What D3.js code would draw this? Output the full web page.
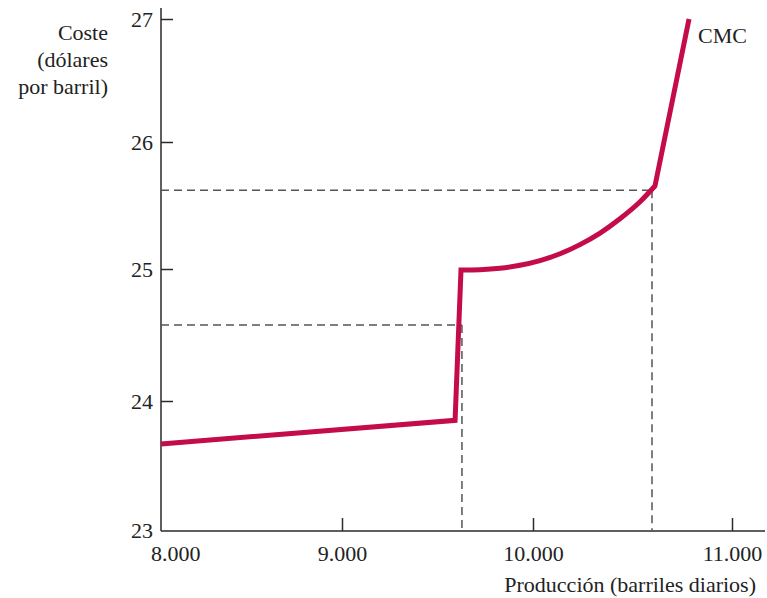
<!DOCTYPE html>
<html><head><meta charset="utf-8">
<script src="https://cdn.jsdelivr.net/npm/d3@7"></script>
<style>
html,body{margin:0;padding:0;background:#fff;}
svg text{font-family:"Liberation Serif","Times New Roman",serif;fill:#222;}
</style></head>
<body><svg id="c" width="767" height="598"></svg>
<script>
// Data
const xTicks = [8000, 9000, 10000, 11000];
const yTicks = [23, 24, 25, 26, 27];
const xTickLabels = ["8.000", "9.000", "10.000", "11.000"];
// CMC curve: linear part, vertical jump, rising curve, steep part
const cmcLinearX = [7915, 9592, 9623];
const cmcLinearY = [23.667, 23.85, 24.992];
const cmcCurveX = [9623, 9723, 9827, 9932, 10035, 10136, 10236, 10337, 10437, 10538, 10613];
const cmcCurveY = [24.992, 24.995, 25.006, 25.029, 25.066, 25.12, 25.192, 25.283, 25.396, 25.53, 25.654];
const cmcSteepX = [10613, 10784];
const cmcSteepY = [25.654, 27.0];
// Dashed reference lines
const refX = [9628, 10598];
const refY = [24.576, 25.62];

const FS = 22;
const svg = d3.select("#c");
// figure is not drawn to uniform scale, so use piecewise linear scales
const x = d3.scaleLinear().domain([7915, 9000, 10000, 11000, 11170]).range([161, 342, 533, 732, 765]);
const y = d3.scaleLinear().domain([22.992, 24, 25, 26, 27, 27.09]).range([531, 401, 269, 142, 19, 8]);

const axisColor = "#2a2a2a";
svg.append("line").attr("x1", x(7915)).attr("x2", x(11170)).attr("y1", y(22.992)).attr("y2", y(22.992))
  .attr("stroke", axisColor).attr("stroke-width", 1.5);
svg.append("line").attr("x1", x(7915)).attr("x2", x(7915)).attr("y1", y(22.992)).attr("y2", y(27.09))
  .attr("stroke", axisColor).attr("stroke-width", 1.5);

const xAxis = d3.axisBottom(x).tickValues(xTicks).tickFormat((d, i) => xTickLabels[i]).tickSize(-13).tickPadding(14);
const gx = svg.append("g").attr("transform", `translate(0,${y(22.992)})`).call(xAxis);
gx.select(".domain").remove();
gx.selectAll(".tick line").attr("stroke", axisColor).attr("stroke-width", 1.5)
  .filter(d => d === 8000).remove();
gx.selectAll(".tick text").attr("font-size", FS).attr("font-family", "Liberation Serif").attr("fill", "#222");

const yAxis = d3.axisLeft(y).tickValues(yTicks).tickFormat(d3.format("d")).tickSize(-12).tickPadding(8);
const gy = svg.append("g").attr("transform", `translate(${x(7915)},0)`).call(yAxis);
gy.select(".domain").remove();
gy.selectAll(".tick line").attr("stroke", axisColor).attr("stroke-width", 1.5)
  .filter(d => d === 23).remove();
gy.selectAll(".tick text").attr("font-size", FS).attr("font-family", "Liberation Serif").attr("fill", "#222");

const dash = "8,5";
refX.forEach((rx, i) => {
  svg.append("line").attr("x1", x(7915)).attr("x2", x(rx)).attr("y1", y(refY[i])).attr("y2", y(refY[i]))
    .attr("stroke", "#555").attr("stroke-width", 1.5).attr("stroke-dasharray", dash);
  svg.append("line").attr("x1", x(rx)).attr("x2", x(rx)).attr("y1", y(refY[i])).attr("y2", y(22.992))
    .attr("stroke", "#555").attr("stroke-width", 1.5).attr("stroke-dasharray", dash);
});

const zip = (xs, ys) => xs.map((v, i) => [v, ys[i]]);
const lin = d3.line().x(d => x(d[0])).y(d => y(d[1])).curve(d3.curveLinear);
const smooth = d3.line().x(d => x(d[0])).y(d => y(d[1])).curve(d3.curveMonotoneX);
const strip = s => s.replace(/^M[^LC]*/, "");
const pathD = lin(zip(cmcLinearX, cmcLinearY)) + strip(smooth(zip(cmcCurveX, cmcCurveY))) + strip(lin(zip(cmcSteepX, cmcSteepY)));
svg.append("path").attr("d", pathD).attr("fill", "none").attr("stroke", "#c40c4c")
  .attr("stroke-width", 5).attr("stroke-linejoin", "miter").attr("stroke-miterlimit", 10);

svg.append("text").attr("x", 698).attr("y", 43).attr("font-size", FS).text("CMC");
const yTitle = ["Coste", "(dólares", "por barril)"];
svg.append("text").attr("text-anchor", "end").attr("font-size", FS)
  .selectAll("tspan").data(yTitle).join("tspan")
  .attr("x", 108).attr("y", (d, i) => 40 + i * 27).text(d => d);
svg.append("text").attr("x", 756).attr("y", 592).attr("text-anchor", "end").attr("font-size", FS)
  .text("Producción (barriles diarios)");
</script></body></html>
